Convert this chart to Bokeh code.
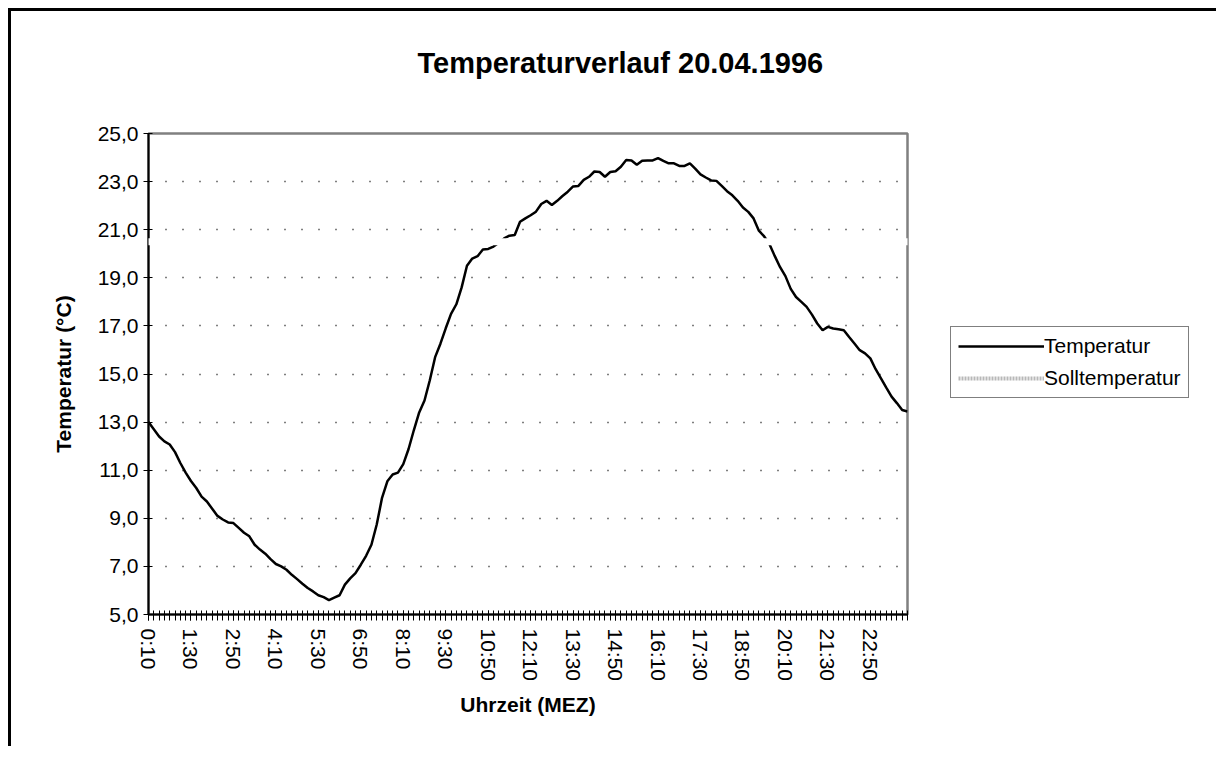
from bokeh.plotting import figure
from bokeh.models import Range1d, FixedTicker, Legend, LegendItem, Title
from bokeh.embed import file_html
from bokeh.resources import INLINE

# categories: every 10 minutes from 0:10 to 24:00
minutes = list(range(10, 1441, 10))
times = ["%d:%02d" % ((m // 60) % 24, m % 60) for m in minutes]
idx = list(range(len(times)))

temperature = [
    13.0, 12.7, 12.4, 12.2, 12.07, 11.75, 11.3, 10.9, 10.55, 10.26,
    9.9, 9.7, 9.4, 9.1, 8.95, 8.83, 8.8, 8.6, 8.4, 8.25,
    7.9, 7.7, 7.53, 7.3, 7.1, 7.0, 6.86, 6.65, 6.47, 6.28,
    6.1, 5.96, 5.8, 5.72, 5.6, 5.7, 5.8, 6.24, 6.5, 6.72,
    7.07, 7.44, 7.9, 8.74, 9.85, 10.54, 10.82, 10.9, 11.25, 11.88,
    12.67, 13.4, 13.9, 14.74, 15.7, 16.26, 16.9, 17.5, 17.9, 18.6,
    19.5, 19.8, 19.9, 20.18, 20.2, 20.3, 20.46, 20.64, 20.75, 20.78,
    21.33, 21.47, 21.6, 21.75, 22.07, 22.2, 22.03, 22.2, 22.4, 22.58,
    22.8, 22.82, 23.07, 23.2, 23.42, 23.4, 23.2, 23.4, 23.43, 23.62,
    23.9, 23.88, 23.7, 23.87, 23.88, 23.88, 23.98, 23.86, 23.76, 23.76,
    23.65, 23.65, 23.76, 23.54, 23.3, 23.17, 23.05, 23.03, 22.82, 22.6,
    22.43, 22.2, 21.92, 21.74, 21.47, 20.96, 20.72, 20.4, 19.9, 19.44,
    19.07, 18.54, 18.2, 18.0, 17.79, 17.47, 17.1, 16.82, 16.96, 16.89,
    16.86, 16.82, 16.54, 16.27, 15.99, 15.86, 15.65, 15.2, 14.82, 14.43,
    14.06, 13.79, 13.5, 13.44,
]
solltemperatur = [20.5] * len(times)

y_ticks = [5, 7, 9, 11, 13, 15, 17, 19, 21, 23, 25]
x_label_idx = list(range(0, len(times), 8))

FONT = "Liberation Sans"

p = figure(
    title=None,
    frame_width=759, frame_height=481,
    min_border_left=137, min_border_right=301,
    min_border_top=122, min_border_bottom=132,
    x_range=Range1d(0, len(times) - 1), y_range=Range1d(5, 25),
    output_backend="svg", toolbar_location=None,
    background_fill_color="white", border_fill_color="white",
)
p.styles = {"border-top": "3px solid black", "border-left": "3px solid black",
            "margin-left": "8px", "margin-top": "8px"}

p.outline_line_color = "#808080"
p.outline_line_width = 2.5

# title: an empty spacer next to the frame, then the real title above it
spacer = Title(text=" ", text_font=FONT, text_font_size="48px", standoff=0)
title = Title(text="Temperaturverlauf 20.04.1996", align="left", offset=269,
              text_font=FONT, text_font_size="29px", text_font_style="bold",
              text_color="black", standoff=0)
p.add_layout(spacer, "above")
p.add_layout(title, "above")

# x axis
xa = p.xaxis[0]
xa.ticker = FixedTicker(ticks=x_label_idx, minor_ticks=idx)
xa.major_label_overrides = {i: times[i] for i in x_label_idx}
xa.major_label_orientation = "vertical"
xa.axis_line_color = "black"
xa.axis_line_width = 2
xa.major_tick_in = 4
xa.major_tick_out = 6
xa.minor_tick_in = 4
xa.minor_tick_out = 6
xa.major_tick_line_color = "black"
xa.minor_tick_line_color = "black"
xa.major_tick_line_width = 1
xa.minor_tick_line_width = 1
xa.major_label_text_font = FONT
xa.major_label_text_font_size = "21px"
xa.major_label_text_color = "black"
xa.major_label_standoff = 8
xa.axis_label = "Uhrzeit (MEZ)"
xa.axis_label_text_font = FONT
xa.axis_label_text_font_size = "21px"
xa.axis_label_text_font_style = "bold"
xa.axis_label_text_color = "black"
xa.axis_label_standoff = 9

# y axis
ya = p.yaxis[0]
ya.ticker = FixedTicker(ticks=y_ticks, minor_ticks=[])
ya.major_label_overrides = {v: "%d,0" % v for v in y_ticks}
ya.axis_line_color = "black"
ya.axis_line_width = 2
ya.major_tick_in = 4
ya.major_tick_out = 5
ya.major_tick_line_color = "black"
ya.major_label_text_font = FONT
ya.major_label_text_font_size = "21px"
ya.major_label_text_color = "black"
ya.major_label_standoff = 5
ya.axis_label = "Temperatur (°C)"
ya.axis_label_text_font = FONT
ya.axis_label_text_font_size = "21px"
ya.axis_label_text_font_style = "bold"
ya.axis_label_text_color = "black"
ya.axis_label_standoff = 20

p.xgrid.visible = False
p.ygrid.ticker = FixedTicker(ticks=y_ticks[1:-1])
p.ygrid.grid_line_color = "black"
p.ygrid.grid_line_width = 1.5
p.ygrid.grid_line_dash = "1 16"

r_temp = p.line(idx, temperature, line_color="black", line_width=2.5)
r_soll = p.line(idx, solltemperatur, line_color="white", line_width=7, level="overlay")
r_soll_legend = p.line(idx, solltemperatur, line_color="#b8b8b8", line_width=4,
                       line_dash="2 1", visible=False)

legend = Legend(
    items=[LegendItem(label="Temperatur", renderers=[r_temp]),
           LegendItem(label="Solltemperatur", renderers=[r_soll_legend])],
    location=(43, 216),
    border_line_color="black", border_line_width=1.5,
    background_fill_color="white", background_fill_alpha=1,
    label_text_font=FONT, label_text_font_size="21px", label_text_color="black",
    glyph_width=86, glyph_height=22, label_height=22, spacing=8,
    padding=7, margin=0, label_standoff=0,
)
p.add_layout(legend, "right")

open("out.html", "w").write(file_html(p, INLINE))
